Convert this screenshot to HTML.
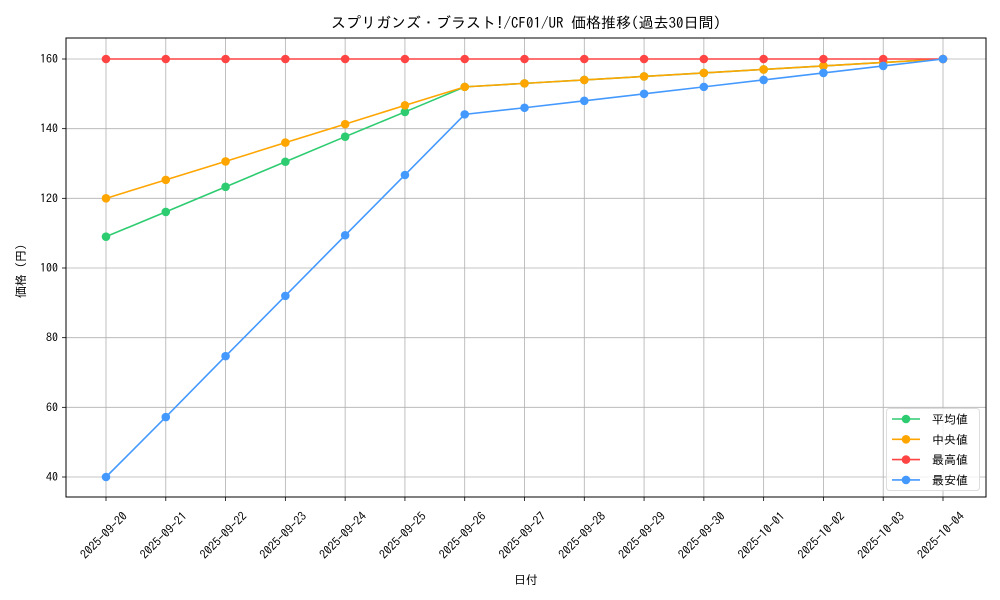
<!DOCTYPE html>
<html><head><meta charset="utf-8"><style>
body{margin:0;background:#fff;}
svg{display:block;font-family:"IPAGothic","Noto Sans CJK JP",sans-serif;}
</style></head><body>
<svg id="s" width="1000" height="600" xmlns="http://www.w3.org/2000/svg">
<rect width="1000" height="600" fill="#fff"/>
<g id="g"></g>
<text x="526" y="28" font-size="15" text-anchor="middle" fill="#000">スプリガンズ・ブラスト!/CF01/UR 価格推移(過去30日間)</text>
<text x="526" y="584" font-size="12" text-anchor="middle">日付</text>
<text transform="translate(25,268) rotate(-90)" font-size="12" text-anchor="middle">価格（円）</text>
</svg>
<script>
const g=document.getElementById('g');let h='';
const X=i=>106+i*59.786, Y=v=>59+(160-v)*418/120;
for(let i=0;i<15;i++){const x=X(i);h+=`<line x1="${x}" y1="38" x2="${x}" y2="497" stroke="#b0b0b0" stroke-width="0.8"/><line x1="${x}" y1="497" x2="${x}" y2="501" stroke="#000" stroke-width="0.8"/>`;
const d=new Date(Date.UTC(2025,8,20+i));const s=d.toISOString().slice(0,10);
h+=`<text transform="translate(${x-1.5},536) rotate(-45)" font-size="12" text-anchor="middle" dominant-baseline="middle">${s}</text>`;}
for(let v=40;v<=160;v+=20){const y=Y(v);h+=`<line x1="66" y1="${y}" x2="986" y2="${y}" stroke="#b0b0b0" stroke-width="0.8"/><line x1="62" y1="${y}" x2="66" y2="${y}" stroke="#000" stroke-width="0.8"/><text x="58" y="${y+4}" font-size="12" text-anchor="end">${v}</text>`;}
const S=[
["#2ecc71",[109,116.1,123.3,130.5,137.7,144.8,152,153,154,155,156,157,158,159,160]],
["#ffa500",[120,125.3,130.6,136,141.3,146.7,152,153,154,155,156,157,158,159,160]],
["#ff4444",Array(15).fill(160)],
["#4499ff",[40,57.2,74.7,92,109.4,126.7,144.1,146,148,150,152,154,156,158,160]]];
S.forEach(([c,d])=>{h+=`<polyline fill="none" stroke="${c}" stroke-width="1.6" points="${d.map((v,i)=>X(i)+','+Y(v)).join(' ')}"/>`;d.forEach((v,i)=>h+=`<circle cx="${X(i)}" cy="${Y(v)}" r="4.3" fill="${c}"/>`);});
h+=`<rect x="66" y="38" width="920" height="459" fill="none" stroke="#000" stroke-width="1"/>`;
h+=`<rect x="886.5" y="408.5" width="93" height="82" rx="3" fill="#fff" fill-opacity="0.8" stroke="#ddd"/>`;
const L=["平均値","中央値","最高値","最安値"];
L.forEach((t,i)=>{const y=419+i*20.3;h+=`<line x1="892" y1="${y}" x2="920" y2="${y}" stroke="${S[i][0]}" stroke-width="1.6"/><circle cx="906" cy="${y}" r="4.3" fill="${S[i][0]}"/><text x="932" y="${y+4.5}" font-size="12">${t}</text>`;});
g.innerHTML=h;
</script>
</body></html>
